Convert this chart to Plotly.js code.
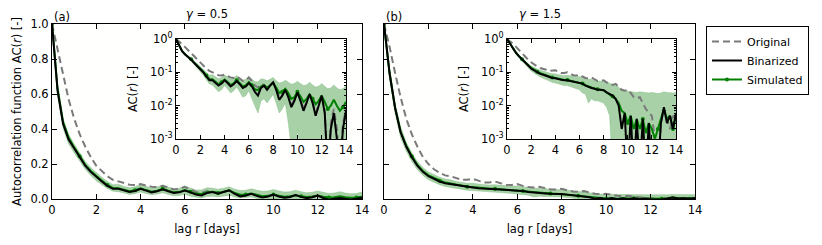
<!DOCTYPE html>
<html><head><meta charset="utf-8">
<script src="https://cdn.plot.ly/plotly-3.0.1.min.js"></script>
<style>html,body{margin:0;padding:0;background:#fff;} #chart{width:822px;height:245px;}</style>
</head><body><div id="chart"></div>
<script>
// lag in days
const lag = [0,0.25,0.5,0.75,1,1.25,1.5,1.75,2,2.25,2.5,2.75,3,3.25,3.5,3.75,4,4.25,4.5,4.75,5,5.25,5.5,5.75,6,6.25,6.5,6.75,7,7.25,7.5,7.75,8,8.25,8.5,8.75,9,9.25,9.5,9.75,10,10.25,10.5,10.75,11,11.25,11.5,11.75,12,12.25,12.5,12.75,13,13.25,13.5,13.75,14];

// ---- panel (a): gamma = 0.5 ----
const origA = [1.0,0.85,0.70,0.57, 0.46,0.37,0.30,0.24, 0.19,0.16,0.13,0.11, 0.10,0.09,0.082,0.08, 0.085,0.077,0.07,0.068, 0.075,0.065,0.055,0.058, 0.07,0.055,0.04,0.035, 0.045,0.042,0.035,0.042, 0.05,0.032,0.018,0.022, 0.03,0.02,0.011,0.015, 0.025,0.015,0.008,0.013, 0.022,0.013,0.006,0.011, 0.02,0.007,-0.002,0.003, 0.008,0.002,-0.002,0.003, 0.008];
const binA  = [1.0,0.62,0.43,0.34, 0.29,0.24,0.19,0.155, 0.125,0.1,0.075,0.058, 0.058,0.048,0.04,0.046, 0.058,0.048,0.038,0.044, 0.055,0.044,0.034,0.038, 0.048,0.038,0.026,0.02, 0.034,0.04,0.03,0.04, 0.05,0.03,0.015,0.02, 0.03,0.018,0.009,0.014, 0.025,0.014,0.007,0.012, 0.022,0.012,0.005,0.01, 0.02,0.006,-0.004,0.002, 0.006,0.001,-0.003,0.002, 0.007];
const simA  = [1.0,0.63,0.44,0.35, 0.295,0.245,0.195,0.16, 0.13,0.105,0.08,0.063, 0.062,0.052,0.044,0.05, 0.061,0.051,0.042,0.047, 0.058,0.047,0.038,0.041, 0.051,0.041,0.031,0.029, 0.038,0.041,0.034,0.041, 0.048,0.035,0.024,0.026, 0.032,0.024,0.016,0.018, 0.026,0.019,0.013,0.016, 0.022,0.016,0.011,0.014, 0.02,0.013,0.008,0.01, 0.015,0.01,0.007,0.009, 0.013];
const simHiA = [1.0,0.66,0.46,0.37, 0.315,0.265,0.215,0.18, 0.15,0.125,0.1,0.082, 0.085,0.072,0.064,0.07, 0.084,0.072,0.062,0.068, 0.08,0.068,0.058,0.062, 0.074,0.062,0.052,0.052, 0.064,0.062,0.056,0.062, 0.07,0.056,0.048,0.05, 0.058,0.05,0.044,0.046, 0.054,0.046,0.04,0.042, 0.05,0.042,0.036,0.038, 0.046,0.038,0.032,0.034, 0.042,0.034,0.03,0.032, 0.04];
const simLoA = [1.0,0.59,0.405,0.315, 0.265,0.215,0.17,0.135, 0.105,0.082,0.06,0.045, 0.042,0.034,0.026,0.03, 0.04,0.032,0.024,0.028, 0.036,0.026,0.018,0.02, 0.028,0.016,0.01,0.006, 0.014,0.016,0.012,0.016, 0.022,0.012,0.006,0.008, 0.012,0.003,-0.004,-0.002, 0.002,-0.004,-0.008,-0.006, -0.002,-0.006,-0.01,-0.008, -0.004,-0.01,-0.014,-0.012, -0.008,-0.012,-0.015,-0.013, -0.01];

// ---- panel (b): gamma = 1.5 ----
const origB = [1.0,0.87,0.72,0.58, 0.46,0.37,0.30,0.24, 0.20,0.17,0.15,0.135, 0.13,0.12,0.11,0.11, 0.115,0.105,0.095,0.095, 0.1,0.09,0.082,0.08, 0.085,0.075,0.068,0.066, 0.07,0.062,0.055,0.055, 0.058,0.05,0.043,0.042, 0.045,0.037,0.03,0.028, 0.03,0.024,0.018,0.017, 0.018,0.012,0.008,0.006, 0.005,0.001,-0.002,0.003, 0.008,0.004,0.002,0.005, 0.004];
const binB  = [1.0,0.72,0.52,0.38, 0.30,0.24,0.19,0.155, 0.13,0.115,0.1,0.09, 0.085,0.078,0.072,0.068, 0.066,0.062,0.06,0.058, 0.058,0.055,0.053,0.052, 0.05,0.046,0.04,0.036, 0.034,0.032,0.03,0.03, 0.029,0.025,0.022,0.02, 0.016,0.01,0.002,0.006, -0.002,0.005,-0.002,0.004, -0.001,0.004,-0.002,0.003, -0.003,-0.004,-0.002,0.003, 0.009,0.003,0.005,0.002, 0.006];
const simB  = [1.0,0.72,0.52,0.385, 0.305,0.245,0.195,0.16, 0.135,0.12,0.105,0.094, 0.088,0.081,0.075,0.07, 0.068,0.064,0.061,0.059, 0.059,0.056,0.054,0.052, 0.05,0.046,0.041,0.037, 0.035,0.033,0.031,0.03, 0.029,0.025,0.022,0.019, 0.016,0.012,0.007,0.006, 0.003,0.005,0.002,0.004, 0.002,0.004,0.0015,0.003, 0.002,0.001,0.002,0.004, 0.008,0.004,0.005,0.002, 0.005];
const simHiB = [1.0,0.75,0.55,0.41, 0.325,0.265,0.215,0.18, 0.155,0.14,0.125,0.115, 0.11,0.1,0.095,0.09, 0.09,0.085,0.082,0.08, 0.082,0.078,0.075,0.074, 0.075,0.07,0.065,0.062, 0.062,0.058,0.055,0.054, 0.054,0.05,0.046,0.044, 0.042,0.036,0.03,0.028, 0.027,0.026,0.025,0.025, 0.026,0.025,0.024,0.024, 0.025,0.024,0.023,0.024, 0.026,0.025,0.024,0.024, 0.025];
const simLoB = [1.0,0.69,0.49,0.35, 0.275,0.215,0.168,0.135, 0.11,0.095,0.082,0.072, 0.066,0.06,0.054,0.05, 0.048,0.045,0.042,0.04, 0.04,0.037,0.034,0.032, 0.03,0.024,0.022,0.012, 0.016,0.014,0.014,0.013, 0.012,0.009,0.005,-0.002, -0.006,-0.01,-0.012,-0.012, -0.012,-0.012,-0.012,-0.012, -0.012,-0.012,-0.012,-0.012, -0.012,-0.012,-0.012,-0.012, -0.012,-0.012,-0.012,-0.012, -0.012];

const xTicks = [0,2,4,6,8,10,12,14];
const logTickVals = [1,0.1,0.01,0.001];
const logTickText = ['10<sup>0</sup>','10<sup>-1</sup>','10<sup>-2</sup>','10<sup>-3</sup>'];

// ---------- layout helpers ----------
const W = 822, H = 245;
const dx = (l, r) => [l / W, r / W];
const dy = (t, b) => [1 - b / H, 1 - t / H];
const logSafe = arr => arr.map(v => (v > 1e-4 ? v : 1e-4)); // off-scale values drawn below the axis floor

const BAND = 'rgba(110,178,110,0.6)';
const GRAY = 'rgb(122,122,122)';
const GREEN = 'rgb(0,128,0)';
const FONT = 'DejaVu Sans';

function panelTraces(orig, bin, sim, hi, lo, xm, ym, legend) {
  const out = [];
  const n = parseInt(xm.slice(1) || '1');
  const sets = [[xm, ym, v => v], ['x' + (n + 2), 'y' + (n + 2), logSafe]];
  sets.forEach(([xa, ya, f], k) => {
    const leg = legend && k === 0;
    out.push({x: lag, y: f(lo), xaxis: xa, yaxis: ya, mode: 'lines', line: {color: BAND, width: 0.6}, showlegend: false, hoverinfo: 'skip'});
    out.push({x: lag, y: f(hi), xaxis: xa, yaxis: ya, mode: 'lines', fill: 'tonexty', fillcolor: BAND, line: {color: BAND, width: 0.6}, showlegend: false, hoverinfo: 'skip'});
    out.push({x: lag, y: f(orig), xaxis: xa, yaxis: ya, mode: 'lines', name: 'Original', legendrank: 1, showlegend: leg, line: {color: GRAY, width: 2, dash: '7px,4px'}});
    out.push({x: lag, y: f(sim), xaxis: xa, yaxis: ya, mode: 'lines+markers', name: 'Simulated', legendrank: 3, showlegend: leg, line: {color: GREEN, width: 2}, marker: {color: GREEN, size: 4, maxdisplayed: 12}});
    out.push({x: lag, y: f(bin), xaxis: xa, yaxis: ya, mode: 'lines', name: 'Binarized', legendrank: 2, showlegend: leg, line: {color: 'black', width: 2}});
  });
  return out;
}

const data = [
  ...panelTraces(origA, binA, simA, simHiA, simLoA, 'x', 'y', true),
  ...panelTraces(origB, binB, simB, simHiB, simLoB, 'x2', 'y2', false)
];

const axBase = {
  showline: true, linecolor: 'black', linewidth: 1, mirror: 'allticks',
  ticks: 'inside', ticklen: 5, tickwidth: 1, tickcolor: 'black',
  showgrid: false, zeroline: false, fixedrange: true,
  tickfont: {family: FONT, size: 11.5, color: 'black'}
};
const xMain = (dom, anchor) => Object.assign({}, axBase, {
  domain: dom, anchor: anchor, range: [0, 14], tickvals: xTicks,
  title: {text: 'lag r [days]', font: {family: FONT, size: 11.5, color: 'black'}, standoff: 9}
});
const yMain = (dom, anchor, labels) => Object.assign({}, axBase, {
  domain: dom, anchor: anchor, range: [0, 1], dtick: 0.2, tick0: 0, tickformat: '.1f',
  showticklabels: labels,
  title: labels ? {text: 'Autocorrelation function AC(<i>r</i>) [-]', font: {family: FONT, size: 11.5, color: 'black'}, standoff: 6} : {text: ''}
});
const xIn = (dom, anchor) => Object.assign({}, axBase, {
  domain: dom, anchor: anchor, range: [0, 14], tickvals: xTicks, ticklen: 4
});
const yIn = (dom, anchor) => Object.assign({}, axBase, {
  domain: dom, anchor: anchor, type: 'log', range: [-3, 0], tickvals: logTickVals, ticktext: logTickText, ticklen: 4,
  minor: {ticks: 'inside', ticklen: 2, tickcolor: 'black', dtick: 'D1', showgrid: false},
  title: {text: 'AC(<i>r</i>) [-]', font: {family: FONT, size: 11.5, color: 'black'}, standoff: 10}
});

const layout = {
  width: W, height: H,
  margin: {l: 0, r: 0, t: 0, b: 0, pad: 0},
  paper_bgcolor: 'white', plot_bgcolor: '#fffffe',
  font: {family: FONT, size: 11.5, color: 'black'},
  xaxis: xMain(dx(52, 362), 'y'),
  yaxis: yMain(dy(24, 199), 'x', true),
  xaxis2: xMain(dx(384, 695), 'y2'),
  yaxis2: yMain(dy(24, 199), 'x2', false),
  xaxis3: xIn(dx(176, 346), 'y3'),
  yaxis3: yIn(dy(39, 139), 'x3'),
  xaxis4: xIn(dx(507, 676), 'y4'),
  yaxis4: yIn(dy(39, 139), 'x4'),
  showlegend: true,
  legend: {x: 706 / W, y: 1 - 26 / H, xanchor: 'left', yanchor: 'top', bgcolor: 'white',
           bordercolor: 'black', borderwidth: 1, font: {family: FONT, size: 11, color: 'black'},
           traceorder: 'normal', tracegroupgap: 0, itemwidth: 30},
  annotations: [
    {text: '<i>γ</i> = 0.5', x: 207 / W, y: 1 - 14 / H, xref: 'paper', yref: 'paper', xanchor: 'center', yanchor: 'middle', showarrow: false, font: {family: FONT, size: 11.5}},
    {text: '<i>γ</i> = 1.5', x: 539.5 / W, y: 1 - 14 / H, xref: 'paper', yref: 'paper', xanchor: 'center', yanchor: 'middle', showarrow: false, font: {family: FONT, size: 11.5}},
    {text: '(a)', x: 52 / W, y: 1 - 17 / H, xref: 'paper', yref: 'paper', xanchor: 'left', yanchor: 'middle', showarrow: false, font: {family: FONT, size: 11.5}},
    {text: '(b)', x: 384 / W, y: 1 - 17 / H, xref: 'paper', yref: 'paper', xanchor: 'left', yanchor: 'middle', showarrow: false, font: {family: FONT, size: 11.5}}
  ]
};

Plotly.newPlot('chart', data, layout, {staticPlot: true, displayModeBar: false});
</script>
</body></html>
